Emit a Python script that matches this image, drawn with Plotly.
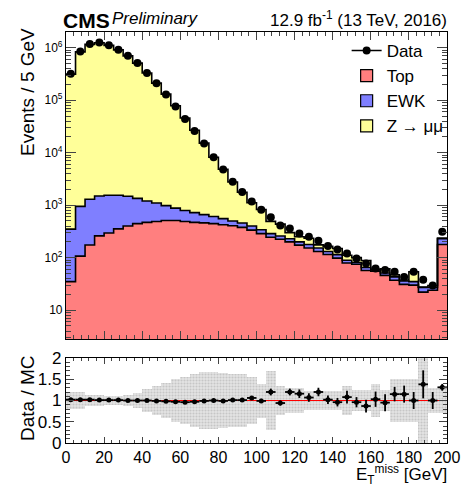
import plotly.graph_objects as go

# ---------------- data ----------------
bin_low = list(range(0, 200, 5))          # 40 bins of 5 GeV, last one includes overflow
bin_centers = [b + 2.5 for b in bin_low]

data_counts = [3.2e5, 8.5e5, 1.18e6, 1.26e6, 1.12e6, 9.2e5, 7.0e5, 5.1e5, 3.3e5, 2.1e5,
               1.28e5, 7.6e4, 4.4e4, 2.6e4, 1.5e4, 8.2e3, 4.8e3, 2.8e3, 1.78e3, 1.18e3,
               820, 590, 410, 360, 290, 250, 210, 167, 143, 120,
               96, 77, 62, 58, 54, 43, 54, 38, 29.5, 310]

top_mc = [35, 107, 174, 260, 295, 353, 400, 445, 470, 490,
          510, 510, 490, 470, 460, 445, 425, 405, 378, 335,
          287, 245, 224, 200, 173, 153, 131, 115, 98, 79,
          75, 57, 55, 46, 37, 31, 30, 22, 24, 178]

ewk_mc = [315, 843, 1126, 1240, 1255, 1197, 1080, 905, 730, 610,
          470, 370, 300, 250, 200, 165, 130, 95, 79, 65,
          53, 42, 35, 29, 27, 25, 22, 16, 16, 10,
          6, 8, 3, 5, 6, 5, 5, 5, 3, 52]

zmm_mc = [313700, 832000, 1155700, 1246500, 1107500, 909500, 698500, 508700, 328800, 210900,
          129600, 77500, 45000, 26100, 14540, 7590, 4295, 2270, 1303, 710,
          488, 205, 177, 71, 50, 56, 22, 33, 35, 22,
          19, 23.5, 2, 10, 4, 1.4, 19, 0.5, 2.5, 7]

ratio = [1.02, 1.02, 1.02, 1.01, 1.01, 1.01, 1.0, 1.0, 1.0, 0.99,
         0.98, 0.97, 0.96, 0.97, 0.99, 1.0, 0.99, 1.01, 1.01, 1.06,
         0.99, 1.2, 0.94, 1.2, 1.16, 1.07, 1.2, 1.02, 0.96, 1.08,
         0.96, 0.87, 1.03, 0.95, 1.15, 1.15, 1.0, 1.38, 1.0, 1.31]

ratio_err = [0.01, 0.01, 0.01, 0.01, 0.01, 0.01, 0.01, 0.01, 0.01, 0.01,
             0.01, 0.01, 0.01, 0.015, 0.015, 0.02, 0.02, 0.03, 0.03, 0.04,
             0.05, 0.08, 0.06, 0.08, 0.1, 0.1, 0.1, 0.1, 0.1, 0.15,
             0.12, 0.15, 0.18, 0.2, 0.17, 0.2, 0.2, 0.33, 0.2, 0.08]

syst_band = [0.2, 0.2, 0.13, 0.13, 0.1, 0.1, 0.12, 0.18, 0.27, 0.35,
             0.42, 0.5, 0.55, 0.62, 0.66, 0.66, 0.64, 0.62, 0.63, 0.55,
             0.4, 0.7, 0.35, 0.3, 0.3, 0.23, 0.23, 0.23, 0.23, 0.35,
             0.25, 0.25, 0.38, 0.25, 0.5, 0.5, 0.5, 1.0, 0.3, 0.3]

y_major = [10, 1e2, 1e3, 1e4, 1e5, 1e6]
y_major_text = ["10", "10<sup>2</sup>", "10<sup>3</sup>", "10<sup>4</sup>",
                "10<sup>5</sup>", "10<sup>6</sup>"]

# ---------------- colours ----------------
C_TOP = "#FF7F7F"
C_EWK = "#7F7FFF"
C_ZMM = "#FFFF99"

cum_top = top_mc
cum_ewk = [a + b for a, b in zip(top_mc, ewk_mc)]
cum_all = [a + b + c for a, b, c in zip(top_mc, ewk_mc, zmm_mc)]

edges = bin_low + [200]

fig = go.Figure()

# filled stacks (overlay of cumulative sums)
for vals, col in [(cum_all, C_ZMM), (cum_ewk, C_EWK), (cum_top, C_TOP)]:
    fig.add_trace(go.Bar(x=bin_centers, y=vals, width=5, marker=dict(color=col, line=dict(width=0)),
                         showlegend=False, xaxis="x", yaxis="y", hoverinfo="skip"))
# step outlines
for vals in [cum_all, cum_ewk, cum_top]:
    fig.add_trace(go.Scatter(x=edges, y=vals + [vals[-1]], mode="lines", line_shape="hv",
                             line=dict(color="black", width=1.6), showlegend=False,
                             xaxis="x", yaxis="y", hoverinfo="skip"))
# data
fig.add_trace(go.Scatter(x=bin_centers, y=data_counts, mode="markers",
                         marker=dict(color="black", size=8), showlegend=False,
                         xaxis="x", yaxis="y"))

# legend entries
fig.add_trace(go.Scatter(x=[None], y=[None], mode="lines+markers", name="Data",
                         marker=dict(color="black", size=8), line=dict(color="black", width=1.5),
                         xaxis="x", yaxis="y", legendrank=1))
for nm, col, rk in [("Top", C_TOP, 2), ("EWK", C_EWK, 3), ("Z → μμ", C_ZMM, 4)]:
    fig.add_trace(go.Bar(x=[None], y=[None], name=nm,
                         marker=dict(color=col, line=dict(color="black", width=1.2)),
                         xaxis="x", yaxis="y", legendrank=rk))

# ratio band
fig.add_trace(go.Bar(x=bin_centers, y=[2 * s for s in syst_band], base=[1 - s for s in syst_band],
                     width=5, marker=dict(color="#dcdcdc", line=dict(width=0),
                                          pattern=dict(shape=".", fgcolor="#a8a8a8", bgcolor="#e4e4e4",
                                                       size=3, solidity=0.4)),
                     showlegend=False, xaxis="x2", yaxis="y2", hoverinfo="skip"))
# unity line
fig.add_trace(go.Scatter(x=[0, 200], y=[1, 1], mode="lines", line=dict(color="red", width=1.2),
                         showlegend=False, xaxis="x2", yaxis="y2", hoverinfo="skip"))
# ratio points
fig.add_trace(go.Scatter(x=bin_centers, y=ratio, mode="markers",
                         marker=dict(color="black", size=5),
                         error_x=dict(type="constant", value=2.5, color="black", thickness=1.8, width=0),
                         error_y=dict(type="data", array=ratio_err, color="black", thickness=1.8, width=0),
                         showlegend=False, xaxis="x2", yaxis="y2"))

# page has an 8px body margin: work in page pixels and subtract it
OFF = 8
W, H = 472 - OFF, 488 - OFF
PL, PR, PT, PB = 66, 457, 32, 443   # plot area in page pixels

def py(px):
    return (PB - px) / (PB - PT)

def pxx(px):
    return (px - PL) / (PR - PL)

axis_common = dict(showline=True, linecolor="black", linewidth=1.2, mirror="allticks",
                   ticks="inside", showgrid=False, zeroline=False)

minor_vals = [k * 10 ** e for e in range(0, 7) for k in range(2, 10)]

fig.update_layout(
    width=W, height=H,
    margin=dict(l=PL - OFF, r=472 - PR, t=PT - OFF, b=488 - PB, pad=0),
    paper_bgcolor="white", plot_bgcolor="white",
    barmode="overlay", bargap=0,
    font=dict(family="Liberation Sans, Arial, sans-serif", color="black"),
    xaxis=dict(domain=[0, 1], range=[0, 200], anchor="y", showticklabels=False,
               dtick=20, ticklen=8, minor=dict(dtick=4, ticklen=4, ticks="inside"), **axis_common),
    yaxis=dict(domain=[py(339), 1], type="log", range=[0.45, 6.3], anchor="x",
               tickvals=y_major, ticktext=y_major_text, ticklen=10,
               tickfont=dict(size=12),
               minor=dict(tickvals=minor_vals, ticklen=5, ticks="inside"), **axis_common),
    xaxis2=dict(domain=[0, 1], range=[0, 200], anchor="y2",
                dtick=20, ticklen=6, tickfont=dict(size=16),
                minor=dict(dtick=4, ticklen=3, ticks="inside"), **axis_common),
    yaxis2=dict(domain=[0, py(358)], range=[0, 2], anchor="x2",
                tickvals=[0, 0.5, 1, 1.5, 2], ticktext=["0", "0.5", "1", "1.5", "2"],
                ticklen=8, tickfont=dict(size=17),
                minor=dict(dtick=0.1, ticklen=4, ticks="inside"), **axis_common),
    legend=dict(x=pxx(354), y=py(33), xanchor="left", yanchor="top",
                bgcolor="rgba(0,0,0,0)", font=dict(size=17), itemwidth=30,
                tracegroupgap=0),
    annotations=[
        dict(text="<b>CMS</b>", x=pxx(61), y=py(20), xref="paper", yref="paper",
             xanchor="left", yanchor="middle", showarrow=False, font=dict(size=21)),
        dict(text="<i>Preliminary</i>", x=pxx(111), y=py(19), xref="paper", yref="paper",
             xanchor="left", yanchor="middle", showarrow=False, font=dict(size=17)),
        dict(text="12.9 fb<sup>-1</sup> (13 TeV, 2016)", x=pxx(459), y=py(19), xref="paper",
             yref="paper", xanchor="right", yanchor="middle", showarrow=False, font=dict(size=17)),
        dict(text="Events / 5 GeV", x=pxx(26), y=py(92), xref="paper", yref="paper",
             xanchor="center", yanchor="middle", textangle=-90, showarrow=False, font=dict(size=19)),
        dict(text="Data / MC", x=pxx(26), y=py(398), xref="paper", yref="paper",
             xanchor="center", yanchor="middle", textangle=-90, showarrow=False, font=dict(size=19)),
        dict(text="E<sub>T</sub><sup>miss</sup> [GeV]", x=pxx(459), y=py(474), xref="paper",
             yref="paper", xanchor="right", yanchor="middle", showarrow=False, font=dict(size=17)),
    ],
)

fig.write_html("out.html")
